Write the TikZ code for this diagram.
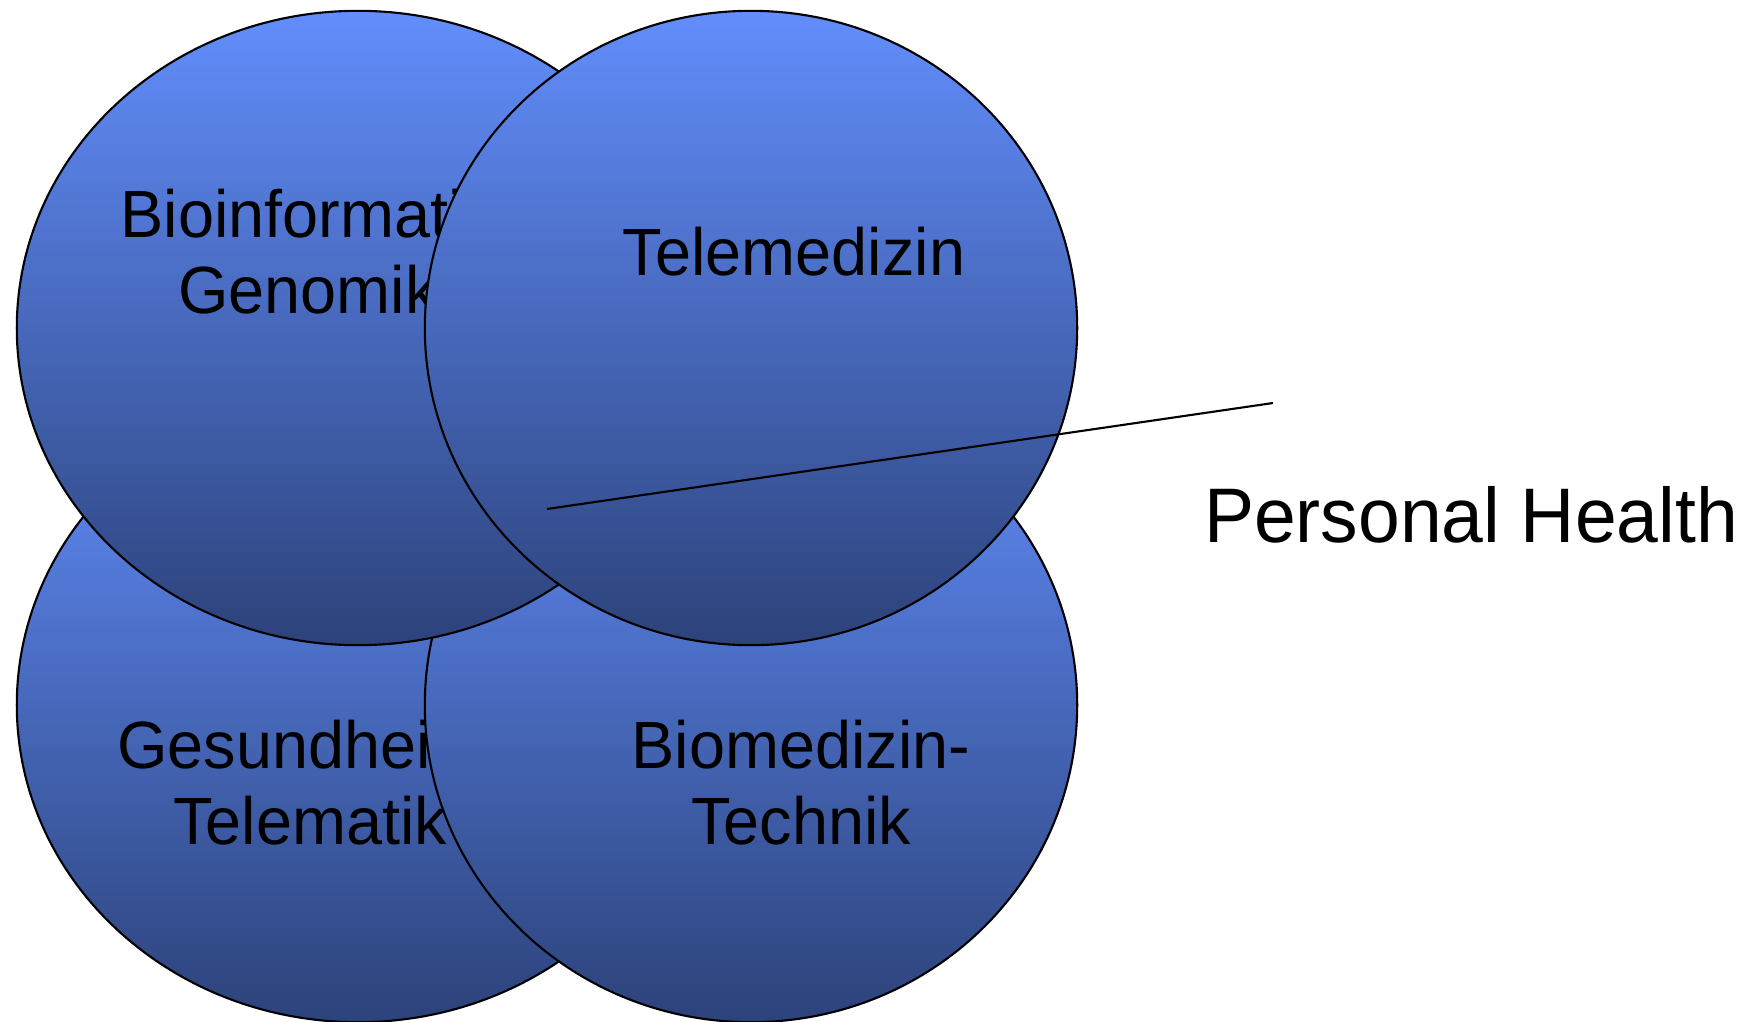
\documentclass[tikz,border=0pt]{standalone}
\usepackage{fontspec}
\setmainfont{Liberation Sans}[FakeStretch=0.97]
\usetikzlibrary{shapes.geometric}
\definecolor{bubbletop}{RGB}{98,142,252}
\definecolor{bubblebot}{RGB}{44,66,122}
\tikzset{
    bubble/.style={ellipse, draw, line width=0.6pt, top color=bubbletop,
    	bottom color=bubblebot, minimum height=6.34cm, inner sep=0pt},
    wide/.style={bubble, minimum width=6.82cm},
    narrow/.style={bubble, minimum width=6.52cm},
    field/.style={align=center, font=\fontsize{19}{21.6}\selectfont}
}

\begin{document}
\begin{tikzpicture}[x=0.01cm, y=-0.01cm]
  \useasboundingbox (0,0) rectangle (1755,1021);

  \node (bl) [wide] at (358,705) {};
  \node (blt) [field] at (310,783) {Gesundheits-\\Telematik};
  \node (br) [narrow] at (751,705) {};
  \node (brt) [field] at (801,783) {Biomedizin-\\Technik};
  \node (tl) [wide] at (358,328) {};
  \node (tlt) [field] at (308,252) {Bioinformatik\\Genomik};
  \node (tr) [narrow] at (751,328) {};
  \node (trt) [field, anchor=base] at (794,275) {Telemedizin};

  \coordinate (tip) at (547,509);
  \coordinate (tail) at (1273,403);
  \draw [line width=0.6pt] (tip) -- (tail);
  \node (ph) [font=\fontsize{22}{26}\selectfont, anchor=base] at (1471,542) {Personal Health};
\end{tikzpicture}
\end{document}
